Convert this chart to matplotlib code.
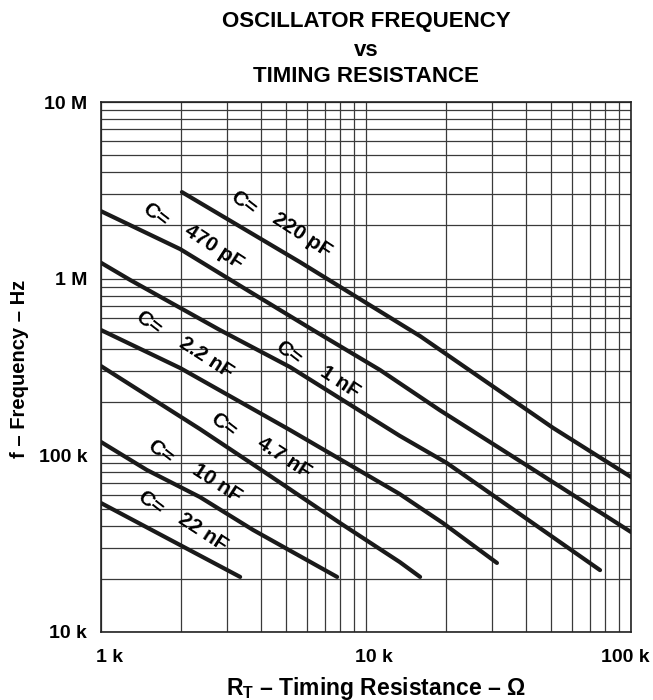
import matplotlib
matplotlib.use("Agg")
import matplotlib.pyplot as plt
from matplotlib.ticker import FixedLocator, NullFormatter

plt.rcParams["font.family"] = ["Liberation Sans", "DejaVu Sans"]
plt.rcParams["font.weight"] = "bold"
plt.rcParams["mathtext.fontset"] = "custom"
plt.rcParams["mathtext.rm"] = "Liberation Sans:bold"
plt.rcParams["mathtext.bf"] = "Liberation Sans:bold"

# ----- DATA -----
# timing resistance in ohm, frequency in Hz
r_220p = [2.02e3, 5.64e3, 16.0e3, 50.8e3, 100e3]
f_220p = [3.09e6, 1.24e6, 473e3, 143e3, 75.4e3]

r_470p = [1.0e3, 1.99e3, 3.56e3, 6.31e3, 11.3e3, 19.0e3, 38.1e3, 100e3]
f_470p = [2.41e6, 1.47e6, 862e3, 512e3, 304e3, 180e3, 92.8e3, 36.8e3]

r_1n = [1.0e3, 1.29e3, 2.81e3, 5.17e3, 13.4e3, 20.2e3, 76.4e3]
f_1n = [1.23e6, 982e3, 512e3, 316e3, 129e3, 90.4e3, 22.4e3]

r_2n2 = [1.0e3, 1.99e3, 5.17e3, 13.4e3, 19.5e3, 31.2e3]
f_2n2 = [512e3, 312e3, 139e3, 60.4e3, 41.4e3, 24.6e3]

r_4n7 = [1.0e3, 2.36e3, 3.88e3, 7.98e3, 13.4e3, 16.0e3]
f_4n7 = [320e3, 141e3, 85.8e3, 41.4e3, 24.9e3, 20.5e3]

r_10n = [1.0e3, 1.49e3, 2.36e3, 3.75e3, 7.78e3]
f_10n = [119e3, 82.6e3, 58.1e3, 37.8e3, 20.5e3]

r_22n = [1.0e3, 3.35e3]
f_22n = [53.7e3, 20.5e3]

curves = [(r_220p, f_220p), (r_470p, f_470p), (r_1n, f_1n), (r_2n2, f_2n2),
          (r_4n7, f_4n7), (r_10n, f_10n), (r_22n, f_22n)]

cap_labels = ["220 pF", "470 pF", "1 nF", "2.2 nF", "4.7 nF", "10 nF", "22 nF"]
# label anchors in axes fraction: ("C=" position, value position)
c_pos = [(0.268, 0.809), (0.102, 0.787), (0.353, 0.526), (0.089, 0.583),
         (0.230, 0.391), (0.111, 0.340), (0.093, 0.243)]
v_pos = [(0.379, 0.749), (0.213, 0.726), (0.451, 0.472), (0.198, 0.517),
         (0.345, 0.328), (0.219, 0.281), (0.192, 0.189)]

x_ticks = [1e3, 1e4, 1e5]
x_ticklabels = ["1 k", "10 k", "100 k"]
y_ticks = [1e4, 1e5, 1e6, 1e7]
y_ticklabels = ["10 k", "100 k", "1 M", "10 M"]

# ----- PLOT -----
fig = plt.figure(figsize=(6.53, 7.0), dpi=100)
ax = fig.add_axes([101 / 653, 1 - 632 / 700, 530 / 653, 530 / 700])

for r, f in curves:
    ax.plot(r, f, color="#1a1a1a", lw=3.0, solid_capstyle="round",
            solid_joinstyle="round", zorder=3)

ax.set_xscale("log")
ax.set_yscale("log")
ax.set_xlim(1e3, 1e5)
ax.set_ylim(1e4, 1e7)

minor_x = [m * d for d in [1e3, 1e4] for m in range(2, 10)]
minor_y = [m * d for d in [1e4, 1e5, 1e6] for m in range(2, 10)]
ax.xaxis.set_major_locator(FixedLocator(x_ticks))
ax.yaxis.set_major_locator(FixedLocator(y_ticks))
ax.xaxis.set_minor_locator(FixedLocator(minor_x))
ax.yaxis.set_minor_locator(FixedLocator(minor_y))
ax.xaxis.set_minor_formatter(NullFormatter())
ax.yaxis.set_minor_formatter(NullFormatter())
ax.set_xticklabels([])
ax.set_yticklabels(y_ticklabels, fontsize=14, fontweight="bold")
ax.tick_params(which="both", length=0)
ax.tick_params(axis="y", pad=10)

# x tick labels sit a little off their grid lines in the original
x_shift = [9, 8, -6]
for xt, lab, dx in zip(x_ticks, x_ticklabels, x_shift):
    ax.annotate(lab, xy=(xt, 0), xycoords=("data", "axes fraction"),
                xytext=(dx, -25), textcoords="offset pixels",
                ha="center", va="center", fontsize=14, fontweight="bold")

ax.grid(True, which="both", color="#3a3a3a", lw=0.9)
for s in ax.spines.values():
    s.set_linewidth(1.2)
    s.set_color("#222222")

for lab, cp, vp in zip(cap_labels, c_pos, v_pos):
    ax.text(cp[0], cp[1], "C=", transform=ax.transAxes, rotation=-38,
            ha="center", va="center", fontsize=15, fontweight="bold", zorder=4)
    ax.text(vp[0], vp[1], lab, transform=ax.transAxes, rotation=-33,
            ha="center", va="center", fontsize=15, fontweight="bold", zorder=4)

fig.text(366 / 653, 1 - 22 / 700, "OSCILLATOR FREQUENCY", ha="center", va="center",
         fontsize=16, fontweight="bold")
fig.text(366 / 653, 1 - 50 / 700, "vs", ha="center", va="center",
         fontsize=16, fontweight="bold")
fig.text(366 / 653, 1 - 76 / 700, "TIMING RESISTANCE", ha="center", va="center",
         fontsize=16, fontweight="bold")

fig.text(20 / 653, 1 - 369 / 700, "f – Frequency – Hz", rotation=90,
         ha="center", va="center", fontsize=14.5, fontweight="bold")
fig.text(376 / 653, 1 - 688 / 700, r"R$_\mathrm{T}$ – Timing Resistance – Ω",
         ha="center", va="center", fontsize=16.5, fontweight="bold")

fig.savefig("out.png", dpi=100)
